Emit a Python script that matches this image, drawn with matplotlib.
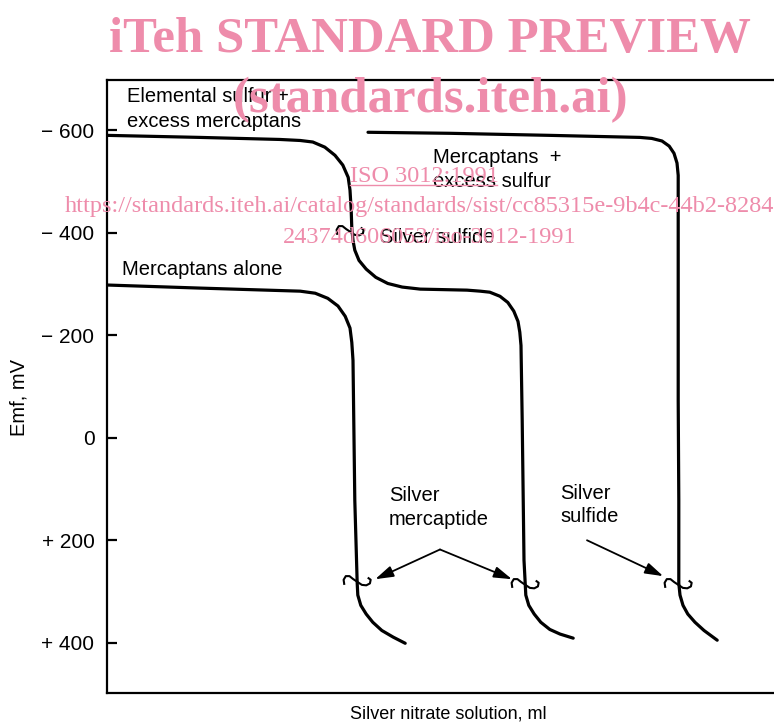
import numpy as np
import matplotlib.pyplot as plt
from matplotlib.path import Path

# ---- data (x: ml, arbitrary scale; y: emf in mV) ----
elem_x = [0.0, 1.55, 2.88, 3.22, 3.43, 3.63, 3.80, 3.93, 4.02, 4.05, 4.07, 4.08,
          4.10, 4.13, 4.20, 4.32, 4.48, 4.68, 4.92, 5.22, 6.00, 6.22, 6.38, 6.55,
          6.68, 6.78, 6.85, 6.88, 6.90, 6.92, 6.95, 6.97, 6.98, 7.03, 7.12, 7.23,
          7.38, 7.55, 7.77]
elem_y = [-590, -586, -582, -580, -577, -567, -551, -532, -508, -483, -444, -409,
          -385, -366, -346, -329, -313, -301, -294, -290, -288, -286, -284, -276,
          -264, -247, -227, -206, -180, -34, 239, 284, 307, 327, 344, 360,
          374, 383, 391]

alone_x = [0.0, 1.55, 3.22, 3.47, 3.68, 3.85, 3.97, 4.05, 4.08, 4.10, 4.13,
           4.17, 4.18, 4.23, 4.32, 4.43, 4.58, 4.77, 4.97]
alone_y = [-298, -292, -286, -282, -272, -257, -237, -214, -186, -151, 122,
           284, 307, 327, 344, 360, 376, 389, 401]

sulf_x = [4.35, 5.72, 7.38, 8.88, 9.08, 9.25, 9.37, 9.45, 9.50, 9.52, 9.52,
          9.53, 9.53, 9.55, 9.60, 9.68, 9.80, 9.95, 10.17]
sulf_y = [-596, -594, -590, -586, -584, -579, -569, -555, -536, -512, -73,
          122, 284, 307, 327, 344, 360, 376, 395]

# break marks on the curves
brk_x = [4.05, 4.17, 6.97, 9.52]
brk_y = [-405, 277, 284, 284]

yticks = [-600, -400, -200, 0, 200, 400]
ytick_labels = ['\u2212 600', '\u2212 400', '\u2212 200', '0', '+ 200', '+ 400']

plt.rcParams['font.family'] = ['Liberation Sans', 'DejaVu Sans']

W, H = 774, 725
fig = plt.figure(figsize=(W / 100, H / 100), dpi=100)
ax = fig.add_axes([107 / W, (H - 693) / H, (790 - 107) / W, (693 - 80) / H])

ax.set_xlim(0, (790 - 107) / 60)
ax.set_ylim(498, -698)

kw = dict(color='black', lw=2.3, solid_joinstyle='round', solid_capstyle='round')
ax.plot(elem_x, elem_y, **kw)
ax.plot(alone_x, alone_y, **kw)
ax.plot(sulf_x, sulf_y, **kw)

# squiggle marker for the break symbols
sq = Path([(-0.9, -0.3), (-0.95, 0.05), (-0.8, 0.3), (-0.55, 0.3), (-0.3, 0.1),
           (0.0, -0.1), (0.3, -0.3), (0.6, -0.33), (0.85, -0.2), (0.9, 0.05),
           (0.7, 0.2)])
ax.plot(brk_x, brk_y, ls='none', marker=sq, ms=20, mfc='none', mec='black', mew=1.5)

# spines / ticks
ax.spines['right'].set_visible(False)
for s in ['left', 'top', 'bottom']:
    ax.spines[s].set_linewidth(1.6)
ax.set_xticks([])
ax.set_yticks(yticks)
ax.set_yticklabels(ytick_labels, fontsize=15)
ax.tick_params(axis='y', direction='in', length=7, width=1.6, pad=9)

ax.set_xlabel('Silver nitrate solution, ml', fontsize=13, labelpad=9)
fig.text(19 / W, 1 - 398 / H, 'Emf, mV', rotation=90, fontsize=14.5,
         ha='center', va='center')

# curve labels
fs = 14.5
ax.text(0.33, -666, 'Elemental sulfur +', fontsize=fs, va='center')
ax.text(0.33, -618, 'excess mercaptans', fontsize=fs, va='center')
ax.text(0.25, -329, 'Mercaptans alone', fontsize=fs, va='center')
ax.text(5.43, -547, 'Mercaptans  +', fontsize=fs, va='center')
ax.text(5.43, -500, 'excess sulfur', fontsize=fs, va='center')
ax.text(4.55, -391, 'Silver sulfide', fontsize=fs, va='center')
ax.text(4.70, 112, 'Silver', fontsize=fs, va='center')
ax.text(4.70, 160, 'mercaptide', fontsize=fs, va='center')
ax.text(7.55, 108, 'Silver', fontsize=fs, va='center')
ax.text(7.55, 154, 'sulfide', fontsize=fs, va='center')

arrow = dict(arrowstyle='-|>,head_length=0.55,head_width=0.17', color='black',
             lw=1.3, shrinkA=0, shrinkB=0, mutation_scale=20)
ax.annotate('', xy=(4.47, 276), xytext=(5.55, 218), arrowprops=arrow)
ax.annotate('', xy=(6.75, 276), xytext=(5.55, 218), arrowprops=arrow)
ax.annotate('', xy=(9.27, 270), xytext=(8.00, 200), arrowprops=arrow)

# watermark of the scanned source
pink = '#ee8cab'
fig.text(430 / W, 1 - 52 / H, 'iTeh STANDARD PREVIEW', family='Liberation Serif',
         weight='bold', fontsize=36.6, color=pink, ha='center', va='baseline')
fig.text(431 / W, 1 - 112 / H, '(standards.iteh.ai)', family='Liberation Serif',
         weight='bold', fontsize=36.6, color=pink, ha='center', va='baseline')
fig.text(350 / W, 1 - 182 / H, 'ISO 3012:1991', family='Liberation Serif',
         fontsize=17.5, color=pink, ha='left', va='baseline')
fig.add_artist(plt.Line2D([350 / W, 497 / W], [1 - 185 / H, 1 - 185 / H],
                          color=pink, lw=1.0))
fig.text(65 / W, 1 - 212 / H,
         'https://standards.iteh.ai/catalog/standards/sist/cc85315e-9b4c-44b2-8284-',
         family='Liberation Serif', fontsize=17.5, color=pink, ha='left', va='baseline')
fig.text(283 / W, 1 - 243 / H, '24374d606053/iso-3012-1991', family='Liberation Serif',
         fontsize=17.5, color=pink, ha='left', va='baseline')

fig.savefig('out.png', dpi=100, facecolor='white')
